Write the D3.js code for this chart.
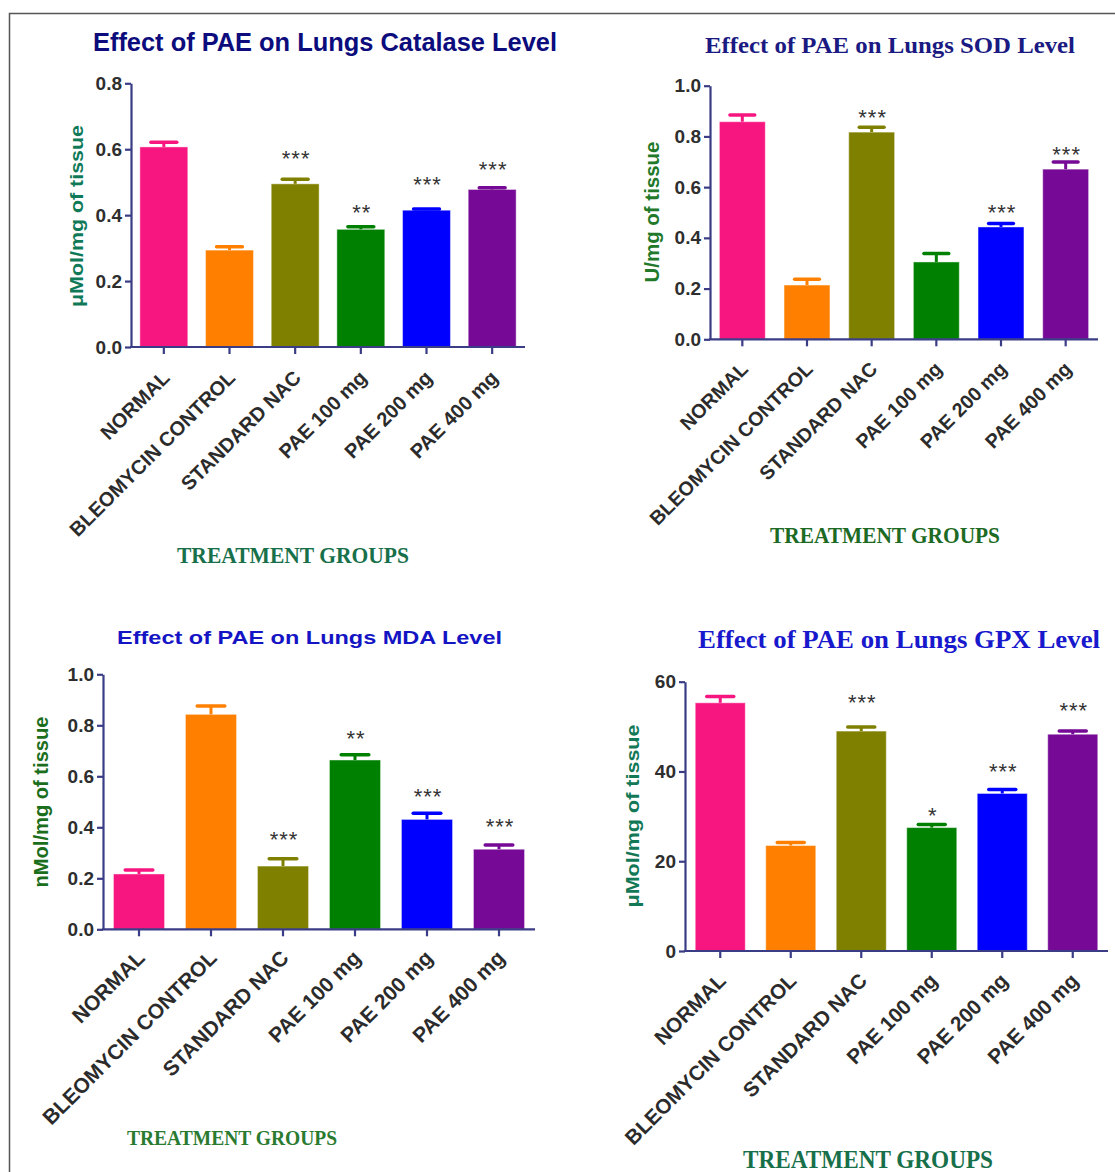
<!DOCTYPE html>
<html>
<head>
<meta charset="utf-8">
<script src="https://cdn.jsdelivr.net/npm/d3@7"></script>
<style>
  html, body { margin: 0; padding: 0; background: #fff; }
  svg { display: block; }
</style>
</head>
<body>
<svg id="chart" width="1115" height="1172"></svg>
<script>
// ---------------- DATA ----------------
const categories = ["NORMAL", "BLEOMYCIN CONTROL", "STANDARD NAC", "PAE 100 mg", "PAE 200 mg", "PAE 400 mg"];
const barColors = ["#f7167f", "#ff8000", "#808000", "#008000", "#0000ff", "#760a96"];

// Catalase (µMol/mg of tissue)
const catalaseMean = [0.607, 0.294, 0.495, 0.357, 0.415, 0.478];
const catalaseSem  = [0.014, 0.010, 0.014, 0.008, 0.004, 0.005];
const catalaseSig  = ["", "", "***", "**", "***", "***"];
const catalaseSigLevel = [0, 0, 0.588, 0.424, 0.509, 0.555];
const catalaseTicks = [0.0, 0.2, 0.4, 0.6, 0.8];

// SOD (U/mg of tissue)
const sodMean = [0.858, 0.214, 0.817, 0.305, 0.443, 0.671];
const sodSem  = [0.026, 0.023, 0.019, 0.033, 0.014, 0.028];
const sodSig  = ["", "", "***", "", "***", "***"];
const sodSigLevel = [0, 0, 0.894, 0, 0.519, 0.750];
const sodTicks = [0.0, 0.2, 0.4, 0.6, 0.8, 1.0];

// MDA (nMol/mg of tissue)
const mdaMean = [0.217, 0.843, 0.248, 0.664, 0.431, 0.314];
const mdaSem  = [0.016, 0.033, 0.029, 0.021, 0.024, 0.017];
const mdaSig  = ["", "", "***", "**", "***", "***"];
const mdaSigLevel = [0, 0, 0.370, 0.766, 0.540, 0.422];
const mdaTicks = [0.0, 0.2, 0.4, 0.6, 0.8, 1.0];

// GPX (µMol/mg of tissue)
const gpxMean = [55.3, 23.5, 49.0, 27.5, 35.1, 48.3];
const gpxSem  = [1.4, 0.7, 0.9, 0.7, 0.9, 0.7];
const gpxSig  = ["", "", "***", "*", "***", "***"];
const gpxSigLevel = [0, 0, 56.4, 31.4, 41.1, 54.6];
const gpxTicks = [0, 20, 40, 60];

// ---------------- LAYOUT / STYLE ----------------
const SANS = "'Liberation Sans', Arial, Helvetica, sans-serif";
const SERIF = "'Liberation Serif', 'Times New Roman', Times, serif";
const AXIS_COLOR = "#3a3d86";

const panels = [
  {
    title: "Effect of PAE on Lungs Catalase Level", titleFont: SANS, titleSize: 25, titleColor: "#0c0c7c",
    titleX: 93, titleY: 51, titleLen: 464,
    ylabel: "\u03bcMol/mg of tissue", ylabelX: 83, ylabelY: 216, ylabelLen: 182, ylabelColor: "#107a58", ylabelSize: 19,
    xlabel: "TREATMENT GROUPS", xlabelX: 177, xlabelY: 563, xlabelLen: 232, xlabelSize: 24, xlabelColor: "#17704a",
    x0: 131, x1: 525, yBottom: 347, yTop: 83.3, yMax: 0.8, pad: 0.27, fmt: d3.format(".1f"),
    mean: catalaseMean, sem: catalaseSem, sig: catalaseSig, sigLevel: catalaseSigLevel, ticks: catalaseTicks, labelSize: 20, labelDy: 32
  },
  {
    title: "Effect of PAE on Lungs SOD Level", titleFont: SERIF, titleSize: 23, titleColor: "#1a1a82",
    titleX: 705, titleY: 53, titleLen: 370,
    ylabel: "U/mg of tissue", ylabelX: 659, ylabelY: 212, ylabelLen: 141, ylabelColor: "#22792a", ylabelSize: 20,
    xlabel: "TREATMENT GROUPS", xlabelX: 770, xlabelY: 543, xlabelLen: 230, xlabelSize: 23, xlabelColor: "#1c6a24",
    x0: 710, x1: 1098, yBottom: 339.3, yTop: 85.7, yMax: 1.0, pad: 0.29, fmt: d3.format(".1f"),
    mean: sodMean, sem: sodSem, sig: sodSig, sigLevel: sodSigLevel, ticks: sodTicks, labelSize: 19.7, labelDy: 31
  },
  {
    title: "Effect of PAE on Lungs MDA Level", titleFont: SANS, titleSize: 18, titleColor: "#1414c4",
    titleX: 117, titleY: 644, titleLen: 385,
    ylabel: "nMol/mg of tissue", ylabelX: 48, ylabelY: 802, ylabelLen: 171, ylabelColor: "#1b6e1b", ylabelSize: 20,
    xlabel: "TREATMENT GROUPS", xlabelX: 127, xlabelY: 1145, xlabelLen: 210, xlabelSize: 21, xlabelColor: "#2a7a30",
    x0: 103, x1: 535, yBottom: 929.3, yTop: 674.3, yMax: 1.0, pad: 0.29, fmt: d3.format(".1f"),
    mean: mdaMean, sem: mdaSem, sig: mdaSig, sigLevel: mdaSigLevel, ticks: mdaTicks, labelSize: 21, labelDy: 30
  },
  {
    title: "Effect of PAE on Lungs GPX Level", titleFont: SERIF, titleSize: 25, titleColor: "#1818cc",
    titleX: 698, titleY: 648, titleLen: 402,
    ylabel: "\u03bcMol/mg of tissue", ylabelX: 639, ylabelY: 816, ylabelLen: 183, ylabelColor: "#127856", ylabelSize: 19,
    xlabel: "TREATMENT GROUPS", xlabelX: 743, xlabelY: 1168, xlabelLen: 250, xlabelSize: 25, xlabelColor: "#17704a",
    x0: 685, x1: 1108, yBottom: 951, yTop: 681.7, yMax: 60, pad: 0.29, fmt: d3.format("d"),
    mean: gpxMean, sem: gpxSem, sig: gpxSig, sigLevel: gpxSigLevel, ticks: gpxTicks, labelSize: 20.7, labelDy: 31
  }
];

const svg = d3.select("#chart");

// outer frame (top and left edges visible)
svg.append("path")
  .attr("d", "M9.5,1172 L9.5,13.5 L1115,13.5")
  .attr("fill", "none").attr("stroke", "#555").attr("stroke-width", 1.5);

panels.forEach(p => {
  const g = svg.append("g");
  const x = d3.scaleBand().domain(categories).range([p.x0, p.x1]).paddingInner(p.pad).paddingOuter(p.pad / 2);
  const y = d3.scaleLinear().domain([0, p.yMax]).range([p.yBottom, p.yTop]);
  const data = categories.map((c, i) => ({ c, m: p.mean[i], e: p.sem[i], s: p.sig[i], sl: p.sigLevel[i], col: barColors[i] }));

  // bars
  g.selectAll("rect.bar").data(data).enter().append("rect")
    .attr("class", "bar")
    .attr("x", d => x(d.c))
    .attr("width", x.bandwidth())
    .attr("y", d => y(d.m))
    .attr("height", d => y(0) - y(d.m))
    .attr("fill", d => d.col)
    .attr("stroke", "rgba(255,255,255,0.45)")
    .attr("stroke-width", 1);

  // error bars (upper only)
  const cx = d => x(d.c) + x.bandwidth() / 2;
  g.selectAll("line.stem").data(data).enter().append("line")
    .attr("x1", cx).attr("x2", cx)
    .attr("y1", d => y(d.m)).attr("y2", d => y(d.m + d.e))
    .attr("stroke", d => d.col).attr("stroke-width", 3);
  g.selectAll("line.cap").data(data).enter().append("line")
    .attr("x1", d => cx(d) - x.bandwidth() * 0.27).attr("x2", d => cx(d) + x.bandwidth() * 0.27)
    .attr("y1", d => y(d.m + d.e)).attr("y2", d => y(d.m + d.e))
    .attr("stroke", d => d.col).attr("stroke-width", 3.5).attr("stroke-linecap", "round");

  // significance stars
  g.selectAll("text.sig").data(data.filter(d => d.s)).enter().append("text")
    .attr("x", d => cx(d) + 1)
    .attr("y", d => y(d.sl) + 12.5)
    .attr("text-anchor", "middle")
    .attr("font-family", SANS).attr("font-size", 22)
    .attr("letter-spacing", "1px")
    .attr("fill", "#333")
    .text(d => d.s);

  // y axis
  const yAxis = d3.axisLeft(y).tickValues(p.ticks).tickFormat(p.fmt).tickSize(6).tickSizeOuter(0).tickPadding(3);
  const ya = g.append("g").attr("transform", `translate(${p.x0},0)`).call(yAxis);
  ya.select(".domain").attr("stroke", AXIS_COLOR).attr("stroke-width", 2.2);
  ya.selectAll(".tick line").attr("stroke", AXIS_COLOR).attr("stroke-width", 2.2);
  ya.selectAll(".tick text").attr("font-family", SANS).attr("font-weight", "bold")
    .attr("font-size", 19).attr("fill", "#2e2e2e");

  // x axis
  const xAxis = d3.axisBottom(x).tickSize(7).tickSizeOuter(0).tickFormat("");
  const xa = g.append("g").attr("transform", `translate(0,${p.yBottom})`).call(xAxis);
  xa.select(".domain").attr("stroke", AXIS_COLOR).attr("stroke-width", 2.2)
    .attr("d", `M${p.x0 - 1},0H${p.x1}`);
  xa.selectAll(".tick line").attr("stroke", AXIS_COLOR).attr("stroke-width", 2.2);

  // rotated category labels
  g.selectAll("text.cat").data(categories).enter().append("text")
    .attr("transform", c => `translate(${x(c) + x.bandwidth() / 2 + 7},${p.yBottom + p.labelDy}) rotate(-45)`)
    .attr("text-anchor", "end")
    .attr("font-family", SANS).attr("font-weight", "bold").attr("font-size", p.labelSize)
    .attr("fill", "#2b2b2b")
    .text(c => c);

  // title
  g.append("text")
    .attr("x", p.titleX).attr("y", p.titleY)
    .attr("font-family", p.titleFont).attr("font-weight", "bold").attr("font-size", p.titleSize)
    .attr("fill", p.titleColor)
    .attr("textLength", p.titleLen).attr("lengthAdjust", "spacingAndGlyphs")
    .text(p.title);

  // y label
  g.append("text")
    .attr("transform", `translate(${p.ylabelX},${p.ylabelY}) rotate(-90)`)
    .attr("text-anchor", "middle")
    .attr("font-family", SANS).attr("font-weight", "bold").attr("font-size", p.ylabelSize)
    .attr("fill", p.ylabelColor)
    .attr("textLength", p.ylabelLen).attr("lengthAdjust", "spacingAndGlyphs")
    .text(p.ylabel);

  // x label
  g.append("text")
    .attr("x", p.xlabelX).attr("y", p.xlabelY)
    .attr("font-family", SERIF).attr("font-weight", "bold").attr("font-size", p.xlabelSize)
    .attr("fill", p.xlabelColor)
    .attr("textLength", p.xlabelLen).attr("lengthAdjust", "spacingAndGlyphs")
    .text(p.xlabel);
});
</script>
</body>
</html>
